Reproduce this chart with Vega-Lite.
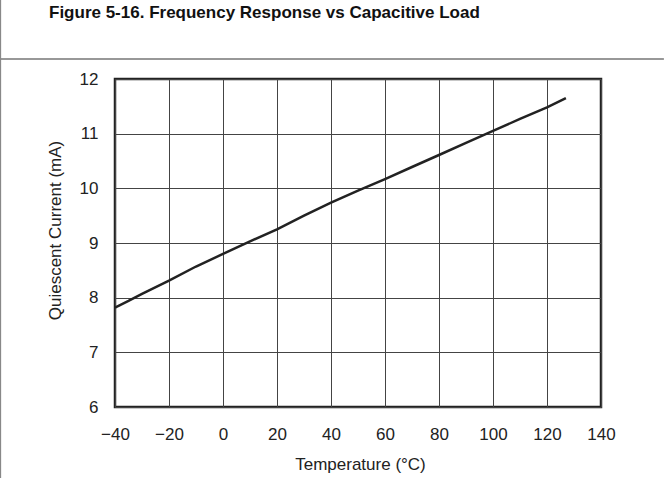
{
  "$schema": "https://vega.github.io/schema/vega-lite/v6.json",
  "width": 486,
  "height": 328,
  "autosize": {"type": "none"},
  "padding": {"left": 115, "top": 79, "right": 63, "bottom": 71},
  "background": "white",
  "title": {
    "text": "Figure 5-16. Frequency Response vs Capacitive Load",
    "anchor": "start",
    "frame": "group",
    "dx": -66,
    "offset": -36,
    "baseline": "alphabetic",
    "font": "Liberation Sans",
    "fontSize": 17,
    "fontWeight": "bold",
    "color": "#111"
  },
  "config": {
    "view": {"stroke": "#222", "strokeWidth": 2.5},
    "axis": {
      "labelFont": "Liberation Sans",
      "titleFont": "Liberation Sans",
      "labelFontSize": 17,
      "titleFontSize": 17,
      "labelColor": "#222",
      "titleColor": "#222",
      "titleFontWeight": "normal",
      "ticks": false,
      "domain": false,
      "grid": true,
      "gridColor": "#444",
      "gridWidth": 1,
      "gridOpacity": 1,
      "labelFlush": false,
      "labelOverlap": false,
      "format": "d"
    }
  },
  "layer": [
    {
      "data": {"values": [
        {"temp": -40, "iq": 7.82},
        {"temp": -35, "iq": 7.94},
        {"temp": -30, "iq": 8.07},
        {"temp": -20, "iq": 8.31},
        {"temp": -10, "iq": 8.57},
        {"temp": 0, "iq": 8.80},
        {"temp": 10, "iq": 9.03},
        {"temp": 20, "iq": 9.25},
        {"temp": 30, "iq": 9.50},
        {"temp": 40, "iq": 9.74},
        {"temp": 50, "iq": 9.96},
        {"temp": 60, "iq": 10.17},
        {"temp": 70, "iq": 10.39},
        {"temp": 80, "iq": 10.61},
        {"temp": 90, "iq": 10.83},
        {"temp": 100, "iq": 11.05},
        {"temp": 110, "iq": 11.27},
        {"temp": 120, "iq": 11.48},
        {"temp": 127, "iq": 11.65}
      ]},
      "mark": {"type": "line", "color": "#222", "strokeWidth": 2.5},
      "encoding": {
        "x": {
          "field": "temp", "type": "quantitative",
          "scale": {"domain": [-40, 140], "nice": false, "zero": false},
          "axis": {
            "values": [-40, -20, 0, 20, 40, 60, 80, 100, 120, 140],
            "title": "Temperature (°C)",
            "labelPadding": 19,
            "titleX": 245,
            "titleY": 62,
            "titleBaseline": "alphabetic"
          }
        },
        "y": {
          "field": "iq", "type": "quantitative",
          "scale": {"domain": [6, 12], "nice": false, "zero": false},
          "axis": {
            "values": [6, 7, 8, 9, 10, 11, 12],
            "title": "Quiescent Current (mA)",
            "labelPadding": 17,
            "titleX": -55,
            "titleY": 151,
            "titleAngle": -90,
            "titleAlign": "center",
            "titleBaseline": "alphabetic"
          }
        }
      }
    },
    {
      "data": {"values": [{}]},
      "mark": {"type": "rule", "color": "#333", "strokeWidth": 1.2, "clip": false},
      "encoding": {
        "x": {"datum": -82.59, "type": "quantitative"},
        "x2": {"datum": 163.3},
        "y": {"datum": 12.366, "type": "quantitative"}
      }
    },
    {
      "data": {"values": [{}]},
      "mark": {"type": "rule", "color": "#888", "strokeWidth": 1.5, "clip": false},
      "encoding": {
        "x": {"datum": -82.45, "type": "quantitative"},
        "y": {"datum": 13.45, "type": "quantitative"},
        "y2": {"datum": 4.7}
      }
    }
  ]
}
